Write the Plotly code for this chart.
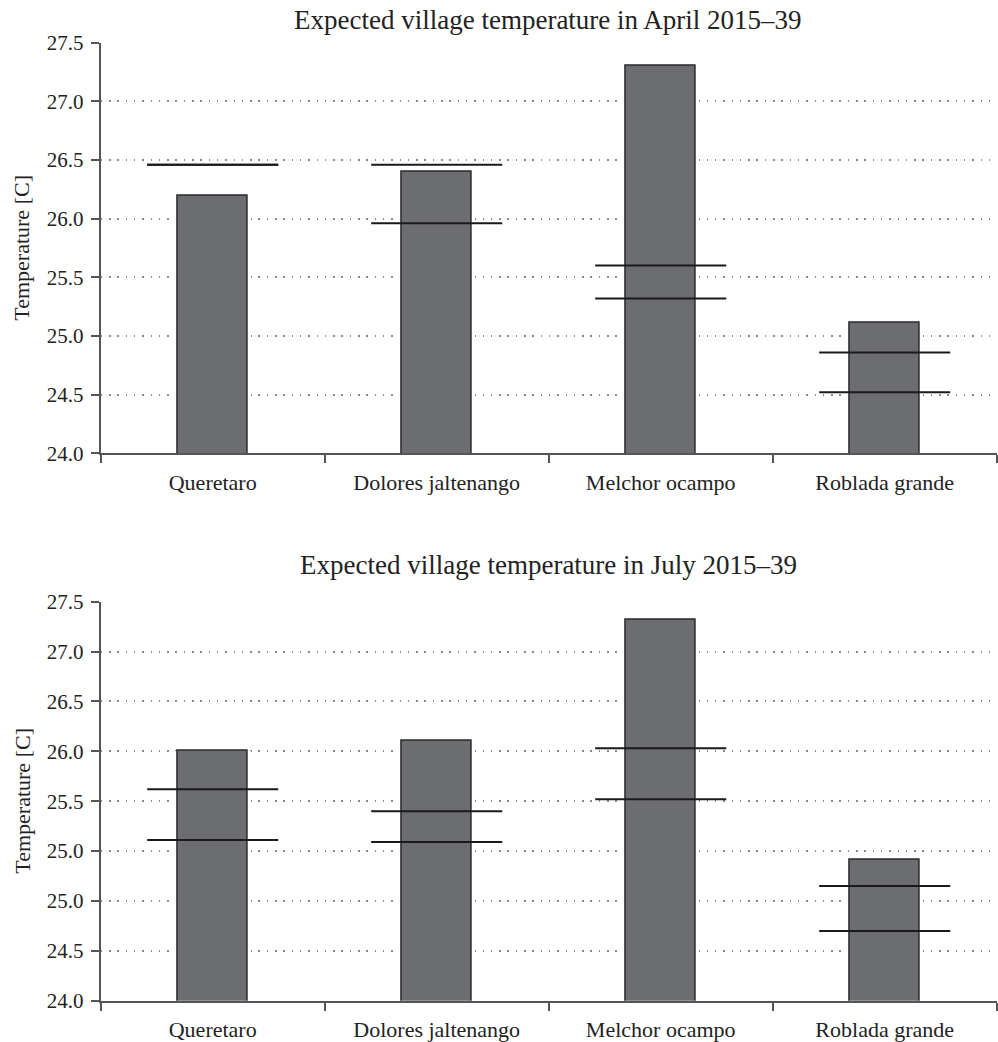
import plotly.graph_objects as go

villages = ["Queretaro", "Dolores jaltenango", "Melchor ocampo", "Roblada grande"]

april_title = "Expected village temperature in April 2015–39"
april_expected = [26.20, 26.40, 27.30, 25.11]
april_upper = [26.46, 26.46, 25.60, 24.86]
april_lower = [26.46, 25.96, 25.32, 24.52]
april_ticks = [24.0, 24.5, 25.0, 25.5, 26.0, 26.5, 27.0, 27.5]
april_ticktext = ["24.0", "24.5", "25.0", "25.5", "26.0", "26.5", "27.0", "27.5"]

july_title = "Expected village temperature in July 2015–39"
july_expected = [26.01, 26.11, 27.32, 24.91]
july_upper = [25.62, 25.40, 26.03, 24.65]
july_lower = [25.11, 25.09, 25.52, 24.20]
july_ticks = [23.5, 24.0, 24.5, 25.0, 25.5, 26.0, 26.5, 27.0, 27.5]
july_ticktext = ["24.0", "24.5", "25.0", "25.0", "25.5", "26.0", "26.5", "27.0", "27.5"]

y_title = "Temperature [C]"

FONT = "Liberation Serif"
TXT = "#222222"
AX = "#555555"
BAR = "#6c6d71"
W, H = 998, 1042

pos = list(range(len(villages)))
BAR_W = 0.31
HALF_LINE = 0.2925

fig = go.Figure()


def add_panel(expected, upper, lower, xa, ya):
    fig.add_trace(go.Bar(x=pos, y=expected, width=BAR_W + 0.03,
                         marker=dict(color="white", line=dict(width=0)),
                         xaxis=xa, yaxis=ya, showlegend=False, hoverinfo="skip"))
    fig.add_trace(go.Bar(x=pos, y=expected, width=BAR_W,
                         marker=dict(color=BAR, line=dict(color="#2a2a2a", width=1.5)),
                         xaxis=xa, yaxis=ya, showlegend=False))
    lx, ly = [], []
    for i in pos:
        for v in (upper[i], lower[i]):
            lx += [i - HALF_LINE, i + HALF_LINE, None]
            ly += [v, v, None]
    fig.add_trace(go.Scatter(x=lx, y=ly, mode="lines",
                             line=dict(color="#1a1a1a", width=2),
                             xaxis=xa, yaxis=ya, showlegend=False, hoverinfo="skip"))


add_panel(april_expected, april_upper, april_lower, "x", "y")
add_panel(july_expected, july_upper, july_lower, "x2", "y2")

xdom = [100.7 / W, 996.7 / W]
top_dom = [1 - 453.3 / H, 1 - 42.7 / H]
bot_dom = [1 - 1000.7 / H, 1 - 601.7 / H]


def xaxis_cfg(anchor):
    return dict(domain=xdom, anchor=anchor, range=[-0.5, 3.5], automargin=False,
                tickmode="array", tickvals=pos, ticktext=villages,
                ticks="outside", ticklen=8, tickcolor="rgba(0,0,0,0)",
                tickfont=dict(family=FONT, size=22, color=TXT),
                showline=True, linecolor=AX, linewidth=2,
                showgrid=False, zeroline=False, fixedrange=True,
                minor=dict(tickmode="array", tickvals=[-0.5, 0.5, 1.5, 2.5, 3.5],
                           ticks="outside", ticklen=8, tickcolor=AX, tickwidth=2,
                           showgrid=False))


def yaxis_cfg(anchor, dom, ticks, ticktext):
    return dict(domain=dom, anchor=anchor, range=[ticks[0], ticks[-1]], automargin=False,
                tickmode="array", tickvals=ticks, ticktext=ticktext,
                ticks="outside", ticklen=8, tickcolor=AX, tickwidth=2,
                ticklabelstandoff=3,
                tickfont=dict(family=FONT, size=21, color=TXT),
                showline=True, linecolor=AX, linewidth=2,
                showgrid=True, gridcolor="#8a8a8a", gridwidth=1.5, griddash="1.5px,6.8px",
                zeroline=False, fixedrange=True)


fig.update_layout(
    template="none",
    width=W, height=H,
    margin=dict(l=0, r=0, t=0, b=0, pad=0),
    paper_bgcolor="white", plot_bgcolor="white",
    font=dict(family=FONT, color=TXT),
    barmode="overlay", bargap=0,
    xaxis=xaxis_cfg("y"),
    yaxis=yaxis_cfg("x", top_dom, april_ticks, april_ticktext),
    xaxis2=xaxis_cfg("y2"),
    yaxis2=yaxis_cfg("x2", bot_dom, july_ticks, july_ticktext),
    annotations=[
        dict(text=april_title, xref="paper", yref="paper", x=548 / W, y=1 - 20 / H,
             xanchor="center", yanchor="middle", showarrow=False,
             font=dict(family=FONT, size=27, color=TXT)),
        dict(text=july_title, xref="paper", yref="paper", x=548 / W, y=1 - 565 / H,
             xanchor="center", yanchor="middle", showarrow=False,
             font=dict(family=FONT, size=27, color=TXT)),
        dict(text=y_title, xref="paper", yref="paper", x=21.7 / W, y=1 - 248 / H,
             xanchor="center", yanchor="middle", showarrow=False, textangle=-90,
             font=dict(family=FONT, size=22, color=TXT)),
        dict(text=y_title, xref="paper", yref="paper", x=21.7 / W, y=1 - 801 / H,
             xanchor="center", yanchor="middle", showarrow=False, textangle=-90,
             font=dict(family=FONT, size=22, color=TXT)),
    ],
)

fig.write_html(
    "out.html",
    config={"displayModeBar": False},
    post_script="document.body.style.margin='0px';document.body.style.overflow='hidden';",
)
